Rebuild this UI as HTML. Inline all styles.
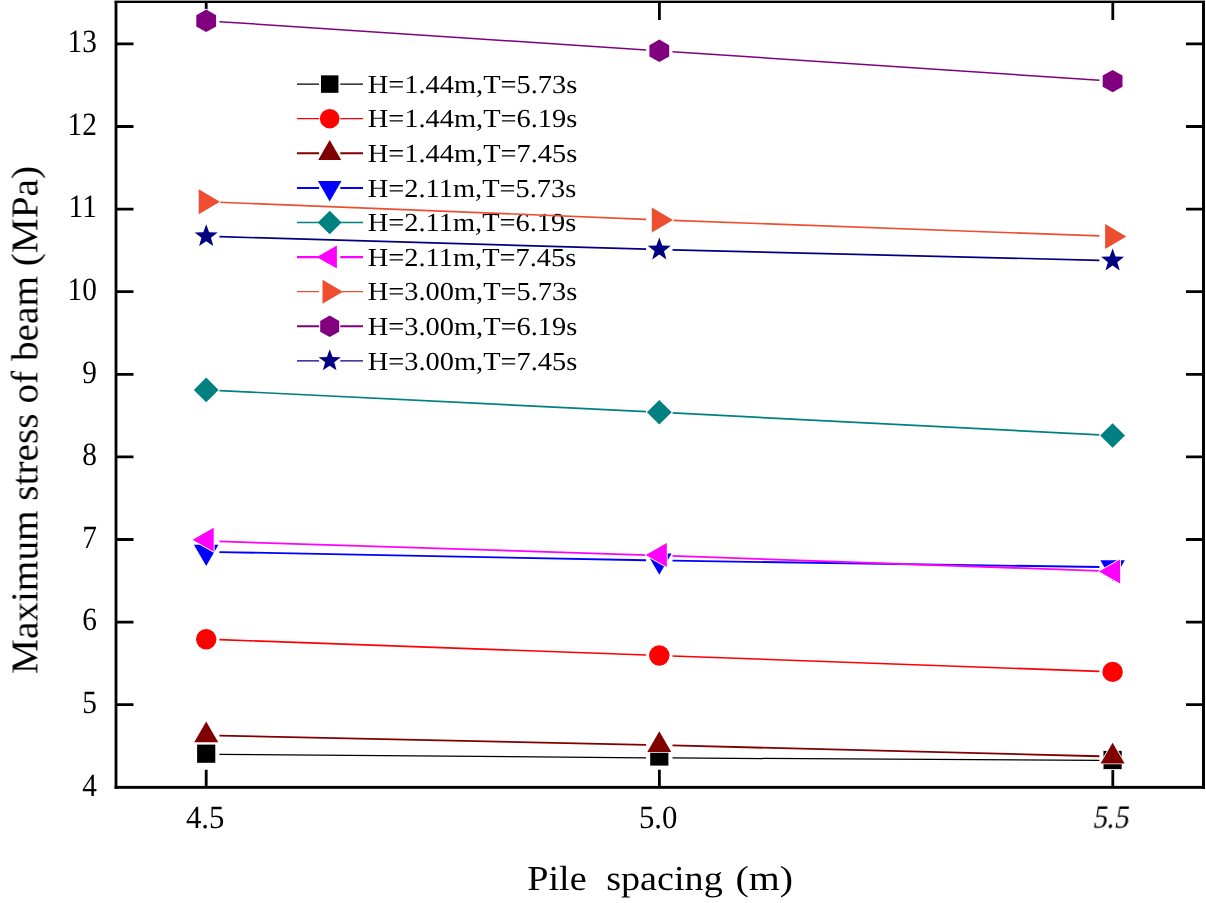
<!DOCTYPE html>
<html lang="en">
<head>
<meta charset="utf-8">
<title>Maximum stress of beam vs pile spacing</title>
<style>
html,body{margin:0;padding:0;background:#fff;}
body{width:1206px;height:903px;overflow:hidden;}
svg .t{filter:grayscale(1);}
svg{filter:blur(0.45px);}
svg text{font-family:"Liberation Serif",serif;text-rendering:geometricPrecision;}
</style>
</head>
<body>
<svg width="1206" height="903" viewBox="0 0 1206 903" style="display:block">
<rect width="1206" height="903" fill="#fff"/>
<path d="M297 84.1H319.1M340.3 84.1H363" stroke="#000000" stroke-width="1.3" fill="none"/>
<g transform="translate(329.7 84.1) scale(0.96) translate(-329.7 -84.1)"><rect x="320.6" y="75" width="18.2" height="18.2" fill="#000000"/></g>
<path d="M297 118.7H319.1M340.3 118.7H363" stroke="#ff0000" stroke-width="1.3" fill="none"/>
<g transform="translate(329.7 118.7) scale(0.96) translate(-329.7 -118.7)"><circle cx="329.7" cy="118.7" r="10.2" fill="#ff0000"/></g>
<path d="M297 153.3H319.1M340.3 153.3H363" stroke="#800000" stroke-width="2" fill="none"/>
<g transform="translate(329.7 153.3) scale(0.96) translate(-329.7 -153.3)"><polygon points="329.7,139.57 341.7,160.17 317.7,160.17" fill="#800000"/></g>
<path d="M297 187.9H319.1M340.3 187.9H363" stroke="#0000ff" stroke-width="2" fill="none"/>
<g transform="translate(329.7 187.9) scale(0.96) translate(-329.7 -187.9)"><polygon points="329.7,202.03 342,180.83 317.4,180.83" fill="#0000ff"/></g>
<path d="M297 222.5H319.1M340.3 222.5H363" stroke="#008080" stroke-width="1.6" fill="none"/>
<g transform="translate(329.7 222.5) scale(0.96) translate(-329.7 -222.5)"><polygon points="329.7,210.2 342.1,222.5 329.7,234.8 317.3,222.5" fill="#008080"/></g>
<path d="M297 257.1H319.1M340.3 257.1H363" stroke="#ff00ff" stroke-width="2.2" fill="none"/>
<g transform="translate(329.7 257.1) scale(0.96) translate(-329.7 -257.1)"><polygon points="316.1,257.1 337.2,245.1 337.2,269.1" fill="#ff00ff"/></g>
<path d="M297 291.7H319.1M340.3 291.7H363" stroke="#ee4e30" stroke-width="1.2" fill="none"/>
<g transform="translate(329.7 291.7) scale(0.96) translate(-329.7 -291.7)"><polygon points="343.4,291.7 322.2,279.2 322.2,304.2" fill="#ee4e30"/></g>
<path d="M297 326.3H319.1M340.3 326.3H363" stroke="#800080" stroke-width="2" fill="none"/>
<g transform="translate(329.7 326.3) scale(0.96) translate(-329.7 -326.3)"><polygon points="329.7,315.1 339.6,320.7 339.6,331.9 329.7,337.5 319.8,331.9 319.8,320.7" fill="#800080"/></g>
<path d="M297 360.9H319.1M340.3 360.9H363" stroke="#000080" stroke-width="1.4" fill="none"/>
<g transform="translate(329.7 360.9) scale(0.96) translate(-329.7 -360.9)"><polygon points="329.7,348.8 332.62,356.89 341.21,357.16 334.42,362.43 336.81,370.69 329.7,365.86 322.59,370.69 324.98,362.43 318.19,357.16 326.78,356.89" fill="#000080"/></g>
<g class="t" font-family='"Liberation Serif", serif' fill="#000">
<text transform="translate(367.8 92.8) scale(1.092 1)" font-size="26">H=1.44m,T=5.73s</text>
<text transform="translate(367.8 127.4) scale(1.092 1)" font-size="26">H=1.44m,T=6.19s</text>
<text transform="translate(367.8 162) scale(1.092 1)" font-size="26">H=1.44m,T=7.45s</text>
<text transform="translate(367.8 196.6) scale(1.092 1)" font-size="26">H=2.11m,T=5.73s</text>
<text transform="translate(367.8 231.2) scale(1.092 1)" font-size="26">H=2.11m,T=6.19s</text>
<text transform="translate(367.8 265.8) scale(1.092 1)" font-size="26">H=2.11m,T=7.45s</text>
<text transform="translate(367.8 300.4) scale(1.092 1)" font-size="26">H=3.00m,T=5.73s</text>
<text transform="translate(367.8 335) scale(1.092 1)" font-size="26">H=3.00m,T=6.19s</text>
<text transform="translate(367.8 369.6) scale(1.092 1)" font-size="26">H=3.00m,T=7.45s</text>
</g>
<rect x="114.6" y="0" width="1090.4" height="1" fill="#b4b4b4"/>
<rect x="114.6" y="0.9" width="1090.4" height="2.1" fill="#000"/>
<rect x="114.6" y="785.9" width="1090.4" height="2.9" fill="#000"/>
<rect x="114.6" y="0.9" width="2.8" height="787.9" fill="#000"/>
<rect x="1202.0" y="0.9" width="3.0" height="787.9" fill="#000"/>
<path d="M206.2 787.3V769.8M206.2 1.6V19.9M659.4 787.3V769.8M659.4 1.6V19.9M1112.8 787.3V769.8M1112.8 1.6V19.9M116 704.7H133.5M1203.5 704.7H1186M116 622.1H133.5M1203.5 622.1H1186M116 539.5H133.5M1203.5 539.5H1186M116 456.9H133.5M1203.5 456.9H1186M116 374.3H133.5M1203.5 374.3H1186M116 291.7H133.5M1203.5 291.7H1186M116 209.1H133.5M1203.5 209.1H1186M116 126.5H133.5M1203.5 126.5H1186M116 43.9H133.5M1203.5 43.9H1186" stroke="#000" stroke-width="2.8" fill="none"/>
<path d="M219.4 754.31L646.1 757.79M672.5 757.98L1099.4 760.42" stroke="#000000" stroke-width="1.25" fill="none"/>
<rect x="197.1" y="744.6" width="18.2" height="18.2" fill="#000000" stroke="#fff" stroke-width="1.8" paint-order="stroke" stroke-linejoin="round"/>
<rect x="650.2" y="747.4" width="18.2" height="18.2" fill="#000000" stroke="#fff" stroke-width="1.8" paint-order="stroke" stroke-linejoin="round"/>
<rect x="1103.5" y="750.9" width="18.2" height="18.2" fill="#000000" stroke="#fff" stroke-width="1.8" paint-order="stroke" stroke-linejoin="round"/>
<path d="M219.39 639.67L646.11 655.03M672.49 655.98L1099.41 671.42" stroke="#ff0000" stroke-width="1.6" fill="none"/>
<circle cx="206.2" cy="639.2" r="10.2" fill="#ff0000" stroke="#fff" stroke-width="1.8" paint-order="stroke" stroke-linejoin="round"/>
<circle cx="659.3" cy="655.5" r="10.2" fill="#ff0000" stroke="#fff" stroke-width="1.8" paint-order="stroke" stroke-linejoin="round"/>
<circle cx="1112.6" cy="671.9" r="10.2" fill="#ff0000" stroke="#fff" stroke-width="1.8" paint-order="stroke" stroke-linejoin="round"/>
<path d="M219.4 735.59L646.1 744.81M672.5 745.43L1099.4 756.27" stroke="#800000" stroke-width="1.8" fill="none"/>
<polygon points="206.2,721.57 218.2,742.17 194.2,742.17" fill="#800000" stroke="#fff" stroke-width="1.8" paint-order="stroke" stroke-linejoin="round"/>
<polygon points="659.3,731.37 671.3,751.97 647.3,751.97" fill="#800000" stroke="#fff" stroke-width="1.8" paint-order="stroke" stroke-linejoin="round"/>
<polygon points="1112.6,742.87 1124.6,763.47 1100.6,763.47" fill="#800000" stroke="#fff" stroke-width="1.8" paint-order="stroke" stroke-linejoin="round"/>
<path d="M219.4 552.05L646.1 560.25M672.5 560.7L1099.4 567" stroke="#0000ff" stroke-width="1.8" fill="none"/>
<polygon points="206.2,565.93 218.5,544.73 193.9,544.73" fill="#0000ff" stroke="#fff" stroke-width="1.8" paint-order="stroke" stroke-linejoin="round"/>
<polygon points="659.3,574.63 671.6,553.43 647,553.43" fill="#0000ff" stroke="#fff" stroke-width="1.8" paint-order="stroke" stroke-linejoin="round"/>
<polygon points="1112.6,581.33 1124.9,560.13 1100.3,560.13" fill="#0000ff" stroke="#fff" stroke-width="1.8" paint-order="stroke" stroke-linejoin="round"/>
<path d="M219.38 390.55L646.12 411.65M672.48 412.97L1099.42 434.83" stroke="#008080" stroke-width="1.7" fill="none"/>
<polygon points="206.2,377.6 218.6,389.9 206.2,402.2 193.8,389.9" fill="#008080" stroke="#fff" stroke-width="1.8" paint-order="stroke" stroke-linejoin="round"/>
<polygon points="659.3,400 671.7,412.3 659.3,424.6 646.9,412.3" fill="#008080" stroke="#fff" stroke-width="1.8" paint-order="stroke" stroke-linejoin="round"/>
<polygon points="1112.6,423.2 1125,435.5 1112.6,447.8 1100.2,435.5" fill="#008080" stroke="#fff" stroke-width="1.8" paint-order="stroke" stroke-linejoin="round"/>
<path d="M219.39 541.42L646.11 555.08M672.49 555.96L1099.41 570.84" stroke="#ff00ff" stroke-width="1.8" fill="none"/>
<polygon points="192.6,539.8 213.7,527.8 213.7,551.8" fill="#ff00ff" stroke="#fff" stroke-width="1.8" paint-order="stroke" stroke-linejoin="round"/>
<polygon points="645.7,554.9 666.8,542.9 666.8,566.9" fill="#ff00ff" stroke="#fff" stroke-width="1.8" paint-order="stroke" stroke-linejoin="round"/>
<polygon points="1099,571.6 1120.1,559.6 1120.1,583.6" fill="#ff00ff" stroke="#fff" stroke-width="1.8" paint-order="stroke" stroke-linejoin="round"/>
<path d="M219.39 202.23L646.11 219.37M672.49 220.38L1099.41 235.92" stroke="#ee4e30" stroke-width="1.6" fill="none"/>
<polygon points="219.9,201.7 198.7,189.2 198.7,214.2" fill="#ee4e30" stroke="#fff" stroke-width="1.8" paint-order="stroke" stroke-linejoin="round"/>
<polygon points="673,219.9 651.8,207.4 651.8,232.4" fill="#ee4e30" stroke="#fff" stroke-width="1.8" paint-order="stroke" stroke-linejoin="round"/>
<polygon points="1126.3,236.4 1105.1,223.9 1105.1,248.9" fill="#ee4e30" stroke="#fff" stroke-width="1.8" paint-order="stroke" stroke-linejoin="round"/>
<path d="M219.37 21.67L646.13 49.93M672.47 51.68L1099.43 80.22" stroke="#800080" stroke-width="1.5" fill="none"/>
<polygon points="206.2,9.6 216.1,15.2 216.1,26.4 206.2,32 196.3,26.4 196.3,15.2" fill="#800080" stroke="#fff" stroke-width="1.8" paint-order="stroke" stroke-linejoin="round"/>
<polygon points="659.3,39.6 669.2,45.2 669.2,56.4 659.3,62 649.4,56.4 649.4,45.2" fill="#800080" stroke="#fff" stroke-width="1.8" paint-order="stroke" stroke-linejoin="round"/>
<polygon points="1112.6,69.9 1122.5,75.5 1122.5,86.7 1112.6,92.3 1102.7,86.7 1102.7,75.5" fill="#800080" stroke="#fff" stroke-width="1.8" paint-order="stroke" stroke-linejoin="round"/>
<path d="M219.39 236.69L646.11 249.21M672.5 249.92L1099.4 260.28" stroke="#000080" stroke-width="1.7" fill="none"/>
<polygon points="206.2,224.2 209.12,232.29 217.71,232.56 210.92,237.83 213.31,246.09 206.2,241.26 199.09,246.09 201.48,237.83 194.69,232.56 203.28,232.29" fill="#000080" stroke="#fff" stroke-width="1.8" paint-order="stroke" stroke-linejoin="round"/>
<polygon points="659.3,237.5 662.22,245.59 670.81,245.86 664.02,251.13 666.41,259.39 659.3,254.56 652.19,259.39 654.58,251.13 647.79,245.86 656.38,245.59" fill="#000080" stroke="#fff" stroke-width="1.8" paint-order="stroke" stroke-linejoin="round"/>
<polygon points="1112.6,248.5 1115.52,256.59 1124.11,256.86 1117.32,262.13 1119.71,270.39 1112.6,265.56 1105.49,270.39 1107.88,262.13 1101.09,256.86 1109.68,256.59" fill="#000080" stroke="#fff" stroke-width="1.8" paint-order="stroke" stroke-linejoin="round"/>
<g class="t" font-family='"Liberation Serif", serif' fill="#000">
<text transform="translate(96.8 795.5) scale(0.905 1)" text-anchor="end" font-size="32.4">4</text>
<text transform="translate(96.8 712.9) scale(0.905 1)" text-anchor="end" font-size="32.4">5</text>
<text transform="translate(96.8 630.3) scale(0.905 1)" text-anchor="end" font-size="32.4">6</text>
<text transform="translate(96.8 547.7) scale(0.905 1)" text-anchor="end" font-size="32.4">7</text>
<text transform="translate(96.8 465.1) scale(0.905 1)" text-anchor="end" font-size="32.4">8</text>
<text transform="translate(96.8 382.5) scale(0.905 1)" text-anchor="end" font-size="32.4">9</text>
<text transform="translate(96.8 299.9) scale(0.905 1)" text-anchor="end" font-size="32.4">10</text>
<text transform="translate(96.8 217.3) scale(0.905 1)" text-anchor="end" font-size="32.4">11</text>
<text transform="translate(96.8 134.7) scale(0.905 1)" text-anchor="end" font-size="32.4">12</text>
<text transform="translate(96.8 52.1) scale(0.905 1)" text-anchor="end" font-size="32.4">13</text>
<text transform="translate(205.2 827.8) scale(0.95 1)" text-anchor="middle" font-size="32.4">4.5</text>
<text transform="translate(658.2 827.9) scale(0.95 1)" text-anchor="middle" font-size="32.4">5.0</text>
<text transform="translate(1110.2 828) skewX(-9) scale(0.89 1)" text-anchor="middle" font-size="32.4">5.5</text>
<text transform="translate(527.3 889.8) scale(1.09 1)" font-size="35">Pile</text>
<text transform="translate(606.2 889.8) scale(1.09 1)" font-size="35">spacing</text>
<text transform="translate(735.5 889.8) scale(1.14 1)" font-size="35">(m)</text>
<text transform="translate(37.4 674) rotate(-90) scale(1.033 1)" font-size="38">Maximum stress of beam (MPa)</text>
</g>
</svg>
</body>
</html>
